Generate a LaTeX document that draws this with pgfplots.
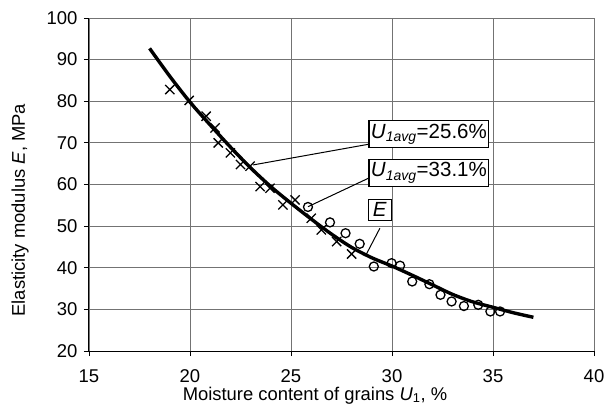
\documentclass[border=0pt]{standalone}
\usepackage{fontspec}
\setmainfont{Liberation Sans}
\usepackage{pgfplots}
\pgfplotsset{compat=1.18}

\begin{document}
\begin{tikzpicture}
\begin{axis}[
scale only axis,
width=505pt, height=333pt,
xmin=15, xmax=40,
ymin=20, ymax=100,
xtick={15,20,...,40},
ytick={20,30,...,100},
axis x line*=bottom,
axis y line*=left,
axis line style={black, line width=1pt, -},
xmajorgrids, ymajorgrids,
grid style={black!55, line width=0.9pt},
tick align=outside,
major tick length=5pt,
tick style={black, line width=0.9pt},
/pgf/number format/assume math mode=true,
ticklabel style={font=\fontsize{18.5}{20}\selectfont},
xticklabel style={yshift=-10pt},
yticklabel style={xshift=-3pt},
label style={font=\fontsize{18.4}{20}\selectfont},
xlabel={Moisture content of grains \textit{U}\textsubscript{1}, \%},
ylabel={Elasticity modulus \textit{E}, MPa},
xlabel style={at={(axis description cs:0.4475,0)}, anchor=north, yshift=-35.5pt, inner sep=0pt},
ylabel style={at={(axis description cs:0,0.423)}, anchor=center, yshift=69pt, inner sep=0pt},
clip=false,
]

% fitted curve E(U1)
\addplot [black, line width=3.4pt, smooth] coordinates {
(18,92.7) (19,86.0) (20,79.8) (21,74.3) (22,69.0) (23,64.0) (24,59.5)
(25,55.5) (26,51.7) (27,48.1) (28,44.9) (29,42.4) (30,40.4) (31,38.2)
(32,35.9) (33,33.6) (34,31.8) (35,30.5) (36,29.2) (37,28.1)
};

% U1avg = 25.6 %
\addplot [only marks, mark=x, mark size=6.5pt, mark options={line width=1.3pt, black}] coordinates {
(19.0,82.8) (19.96,80.2) (20.8,76.4) (21.24,73.6) (21.4,70.0) (22.0,67.6)
(22.5,64.8) (22.97,64.4) (23.47,59.5) (23.96,59.1) (24.6,55.1) (25.2,56.3)
(26.0,51.9) (26.5,49.1) (27.26,46.3) (28.0,43.3)
};

% U1avg = 33.1 %
\addplot [only marks, mark=o, mark size=4.5pt, mark options={line width=1.3pt, black}] coordinates {
(25.84,54.6) (26.93,50.9) (27.7,48.3) (28.4,45.75) (29.1,40.3) (29.98,41.1)
(30.4,40.5) (31.0,36.7) (31.85,36.05) (32.4,33.5) (32.95,31.9) (33.56,30.8)
(34.27,31.1) (34.87,29.5) (35.35,29.5)
};

% callouts
\draw[black, line width=1pt] (axis cs:23.12,64.7) -- (axis cs:28.83,69.66);
\draw[black, line width=1pt] (axis cs:25.84,54.67) -- (axis cs:28.83,61.5);
\draw[black, line width=1pt] (axis cs:28.71,43.06) -- (axis cs:29.4,49.5);
\node[draw, line width=1.2pt, fill=white, anchor=west, inner sep=2pt, minimum height=27pt,
 font=\fontsize{20.5}{22}\selectfont] at (axis cs:28.83,72.1)
 {\textit{U}\textsubscript{\textit{\fontsize{14}{15}\selectfont 1avg}}=25.6\%};
\node[draw, line width=1.2pt, fill=white, anchor=west, inner sep=2pt, minimum height=27pt,
 font=\fontsize{20.5}{22}\selectfont] at (axis cs:28.83,62.8)
 {\textit{U}\textsubscript{\textit{\fontsize{14}{15}\selectfont 1avg}}=33.1\%};
\node[draw, line width=1.2pt, fill=white, anchor=west, inner sep=1pt, minimum width=23pt, minimum height=21pt,
 font=\fontsize{20.5}{22}\selectfont] at (axis cs:28.8,53.9) {\textit{E}};

\end{axis}
\path ([xshift=-89pt,yshift=-56pt]current axis.south west) rectangle ([xshift=20pt,yshift=18pt]current axis.north east);
\end{tikzpicture}
\end{document}
